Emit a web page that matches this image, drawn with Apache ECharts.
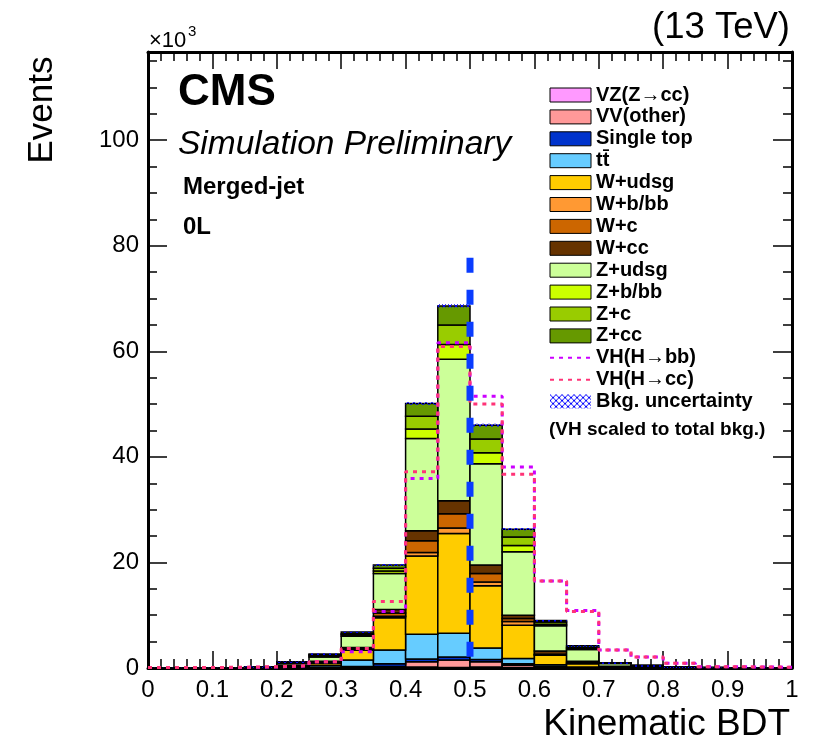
<!DOCTYPE html>
<html>
<head>
<meta charset="utf-8">
<script src="https://cdn.jsdelivr.net/npm/echarts@6/dist/echarts.min.js"></script>
<style>
  html, body { margin: 0; padding: 0; background: #fff; }
  #main { width: 823px; height: 746px; }
</style>
</head>
<body>
<div id="main"></div>
<script>
// bin edges of the Kinematic BDT histogram (20 bins of 0.05)
const binEdges = [0, 0.05, 0.1, 0.15, 0.2, 0.25, 0.3, 0.35, 0.4, 0.45, 0.5,
  0.55, 0.6, 0.65, 0.7, 0.75, 0.8, 0.85, 0.9, 0.95, 1.0]

// background yields per bin, in units of 10^3 events (stack order bottom -> top)
const vzcc      = [0, 0, 0, 0, 0, 0.02, 0.05, 0.05, 0.2, 0.1, 0.2, 0.1, 0.05, 0.02, 0, 0, 0, 0, 0, 0]
const vvOther   = [0, 0, 0, 0, 0.05, 0.08, 0.1, 0.25, 1.0, 1.4, 1.0, 0.4, 0.15, 0.05, 0.02, 0.01, 0, 0, 0, 0]
const singleTop = [0, 0, 0, 0, 0.05, 0.1, 0.15, 0.5, 0.5, 0.6, 0.4, 0.3, 0.1, 0.05, 0.02, 0.01, 0, 0, 0, 0]
const ttbar     = [0, 0, 0, 0.03, 0.1, 0.3, 1.2, 2.6, 4.7, 4.5, 2.2, 1.0, 0.3, 0.08, 0.04, 0.02, 0.01, 0, 0, 0]
const wUdsg     = [0, 0, 0.02, 0.05, 0.2, 0.4, 1.9, 6.1, 14.8, 18.9, 11.8, 6.3, 1.8, 0.6, 0.15, 0.06, 0.02, 0.01, 0, 0]
const wBbb      = [0, 0, 0, 0, 0.02, 0.1, 0.1, 0.3, 0.7, 1.0, 0.7, 0.7, 0.1, 0.1, 0.02, 0.01, 0, 0, 0, 0]
const wC        = [0, 0, 0, 0, 0.05, 0.1, 0.2, 0.6, 2.2, 2.7, 1.6, 0.6, 0.1, 0.1, 0.03, 0.01, 0.01, 0, 0, 0]
const wCc       = [0, 0, 0, 0.02, 0.1, 0.2, 0.2, 0.7, 1.9, 2.5, 1.6, 0.6, 0.6, 0.3, 0.07, 0.03, 0.01, 0.01, 0, 0]
const zUdsg     = [0.02, 0.03, 0.04, 0.1, 0.35, 0.8, 2.1, 6.8, 17.5, 26.8, 19.2, 12.0, 4.8, 2.2, 0.5, 0.28, 0.12, 0.06, 0.05, 0.02]
const zBbb      = [0, 0, 0, 0, 0.08, 0.2, 0.3, 0.5, 1.8, 2.8, 2.1, 1.2, 0.3, 0.2, 0.05, 0.03, 0.01, 0.01, 0, 0]
const zC        = [0, 0, 0, 0, 0.1, 0.2, 0.2, 0.5, 2.4, 3.7, 2.6, 1.6, 0.4, 0.2, 0.05, 0.02, 0.01, 0, 0, 0]
const zCc       = [0, 0, 0, 0.05, 0.1, 0.15, 0.3, 0.6, 2.4, 3.6, 2.6, 1.5, 0.3, 0.3, 0.05, 0.02, 0.01, 0.01, 0, 0]

// stat. uncertainty on the total background (10^3 events)
const bkgUnc    = [0.01, 0.01, 0.01, 0.02, 0.05, 0.08, 0.12, 0.2, 0.25, 0.3, 0.25, 0.2, 0.1, 0.08, 0.04, 0.03, 0.02, 0.01, 0.01, 0.01]

// signal shapes, scaled to total bkg (10^3 events)
const vhbb      = [0.1, 0.1, 0.1, 0.2, 0.4, 1.2, 3.1, 10.7, 35.9, 61.6, 51.5, 38.1, 16.5, 10.9, 3.4, 2.1, 0.9, 0.25, 0.2, 0.15]
const vhcc      = [0.1, 0.1, 0.15, 0.25, 0.45, 1.2, 3.7, 12.6, 37.2, 60.9, 50.0, 36.7, 16.5, 10.7, 3.4, 2.1, 0.9, 0.25, 0.2, 0.15]

// BDT cut
const cutValue = 0.5
const cutLineTop = 77.7

const yMax = 116.7
const fontFamily = '"Liberation Sans", Arial, Helvetica, sans-serif'

const processes = [
  { name: 'VZ(Z→cc)', values: vzcc, color: '#ff99ff' },
  { name: 'VV(other)', values: vvOther, color: '#ff9999' },
  { name: 'Single top', values: singleTop, color: '#0033cc' },
  { name: 'tt\u0304', values: ttbar, color: '#66ccff' },
  { name: 'W+udsg', values: wUdsg, color: '#ffcc00' },
  { name: 'W+b/bb', values: wBbb, color: '#ff9933' },
  { name: 'W+c', values: wC, color: '#cc6600' },
  { name: 'W+cc', values: wCc, color: '#663300' },
  { name: 'Z+udsg', values: zUdsg, color: '#ccff99' },
  { name: 'Z+b/bb', values: zBbb, color: '#ccff00' },
  { name: 'Z+c', values: zC, color: '#99cc00' },
  { name: 'Z+cc', values: zCc, color: '#669900' }
]

// hatch pattern for the uncertainty band
const hatch = document.createElement('canvas')
hatch.width = 6
hatch.height = 6
const hctx = hatch.getContext('2d')
hctx.strokeStyle = '#0000ff'
hctx.lineWidth = 1
hctx.beginPath()
hctx.moveTo(0, 0); hctx.lineTo(6, 6)
hctx.moveTo(6, 0); hctx.lineTo(0, 6)
hctx.stroke()

function renderBlock(params, api) {
  const p0 = api.coord([api.value(0), api.value(3)])
  const p1 = api.coord([api.value(1), api.value(2)])
  return {
    type: 'rect',
    shape: { x: p0[0], y: p0[1], width: p1[0] - p0[0], height: p1[1] - p0[1] },
    style: { fill: api.visual('color'), stroke: '#000', lineWidth: 1.5 }
  }
}

function renderBand(params, api) {
  const p0 = api.coord([api.value(0), api.value(3)])
  const p1 = api.coord([api.value(1), api.value(2)])
  return {
    type: 'rect',
    shape: { x: p0[0], y: p0[1], width: p1[0] - p0[0], height: Math.max(p1[1] - p0[1], 1.5) },
    style: { fill: api.visual('color') }
  }
}

// histogram as step line: one point per lower edge + last upper edge
function stepPoints(vals) {
  let pts = vals.map((v, i) => [binEdges[i], v])
  pts.push([binEdges[vals.length], vals[vals.length - 1]])
  return pts
}

let series = []
let base = binEdges.slice(0, -1).map(() => 0)
processes.forEach(p => {
  let data = []
  p.values.forEach((v, i) => {
    if (v > 0) {
      data.push([binEdges[i], binEdges[i + 1], base[i], base[i] + v])
      base[i] += v
    }
  })
  series.push({
    name: p.name,
    type: 'custom',
    renderItem: renderBlock,
    encode: { x: [0, 1], y: [2, 3] },
    itemStyle: { color: p.color },
    clip: true,
    data: data
  })
})

series.push({
  name: 'Bkg. uncertainty',
  type: 'custom',
  renderItem: renderBand,
  encode: { x: [0, 1], y: [2, 3] },
  itemStyle: { color: { image: hatch, repeat: 'repeat' } },
  clip: true,
  z: 3,
  data: base.map((t, i) => [binEdges[i], binEdges[i + 1], t - bkgUnc[i], t + bkgUnc[i]])
})

series.push({
  name: 'VH(H→bb)',
  type: 'line',
  step: 'end',
  symbol: 'none',
  data: stepPoints(vhbb),
  itemStyle: { color: '#cc00ff' },
  lineStyle: { color: '#cc00ff', width: 3, type: [4, 5] },
  z: 4
})
series.push({
  name: 'VH(H→cc)',
  type: 'line',
  step: 'end',
  symbol: 'none',
  data: stepPoints(vhcc),
  itemStyle: { color: '#ff3377' },
  lineStyle: { color: '#ff3377', width: 3, type: [4, 5] },
  z: 4
})

// vertical dashed line at the cut value
series.push({
  name: 'cut',
  type: 'line',
  symbol: 'none',
  silent: true,
  data: [[cutValue, cutLineTop], [cutValue, 0]],
  lineStyle: { color: '#0a3cff', width: 7, type: [15, 17] },
  z: 6
})

const tickStyle = { color: '#000', width: 1.5 }

function xAxisDef(position, showLabel) {
  return {
    type: 'value',
    position: position,
    min: 0,
    max: 1,
    interval: 0.1,
    axisLine: { show: true, onZero: false, lineStyle: { color: '#000', width: 3 } },
    axisTick: { show: true, inside: true, length: 17, lineStyle: tickStyle },
    minorTick: { show: true, splitNumber: 5, length: 9, lineStyle: tickStyle },
    splitLine: { show: false },
    axisLabel: { show: showLabel, color: '#000', fontSize: 24, fontFamily: fontFamily, margin: 10 }
  }
}

function yAxisDef(position, major, showLabel) {
  return {
    type: 'value',
    position: position,
    min: 0,
    max: yMax,
    interval: major ? 20 : 5,
    axisLine: { show: major, onZero: false, lineStyle: { color: '#000', width: 3 } },
    axisTick: { show: true, inside: true, length: major ? 19 : 9, lineStyle: tickStyle },
    splitLine: { show: false },
    axisLabel: {
      show: showLabel,
      color: '#000',
      fontSize: 24,
      fontFamily: fontFamily,
      margin: 9,
      formatter: v => (Math.abs(v / 20 - Math.round(v / 20)) < 1e-6 ? String(v) : '')
    }
  }
}

const legendData = processes.map(p => ({ name: p.name, icon: 'rect' }))
legendData.push({ name: 'VH(H→bb)', itemStyle: { opacity: 0 } })
legendData.push({ name: 'VH(H→cc)', itemStyle: { opacity: 0 } })
legendData.push({ name: 'Bkg. uncertainty', icon: 'rect', itemStyle: { borderWidth: 0 } })

const option = {
  animation: false,
  backgroundColor: '#fff',
  grid: { left: 148, right: 31, top: 52, bottom: 78, show: false },
  xAxis: [xAxisDef('bottom', true), xAxisDef('top', false)],
  yAxis: [yAxisDef('left', true, true), yAxisDef('left', false, false),
    yAxisDef('right', true, false), yAxisDef('right', false, false)],
  legend: {
    orient: 'vertical',
    left: 549,
    top: 85,
    padding: 0,
    itemWidth: 41,
    itemHeight: 14,
    itemGap: 1.9,
    selectedMode: false,
    itemStyle: { borderColor: '#000', borderWidth: 1 },
    textStyle: { fontFamily: fontFamily, fontWeight: 'bold', fontSize: 20, color: '#000' },
    data: legendData
  },
  graphic: [
    { type: 'text', x: 790, y: 28, style: { text: '(13 TeV)', fontFamily: fontFamily, fontSize: 36.5, fill: '#000', align: 'right', verticalAlign: 'middle' } },
    { type: 'text', x: 149, y: 41, style: { text: '×10', fontFamily: fontFamily, fontSize: 22, fill: '#000', align: 'left', verticalAlign: 'middle' } },
    { type: 'text', x: 188, y: 32, style: { text: '3', fontFamily: fontFamily, fontSize: 15, fill: '#000', align: 'left', verticalAlign: 'middle' } },
    { type: 'text', x: 178, y: 93, style: { text: 'CMS', fontFamily: fontFamily, fontWeight: 'bold', fontSize: 44, fill: '#000', align: 'left', verticalAlign: 'middle' } },
    { type: 'text', x: 178, y: 145, style: { text: 'Simulation Preliminary', fontFamily: fontFamily, fontStyle: 'italic', fontSize: 33.5, fill: '#000', align: 'left', verticalAlign: 'middle' } },
    { type: 'text', x: 183, y: 187, style: { text: 'Merged-jet', fontFamily: fontFamily, fontWeight: 'bold', fontSize: 24, fill: '#000', align: 'left', verticalAlign: 'middle' } },
    { type: 'text', x: 183, y: 227, style: { text: '0L', fontFamily: fontFamily, fontWeight: 'bold', fontSize: 24, fill: '#000', align: 'left', verticalAlign: 'middle' } },
    { type: 'text', x: 549, y: 430, style: { text: '(VH scaled to total bkg.)', fontFamily: fontFamily, fontWeight: 'bold', fontSize: 19, fill: '#000', align: 'left', verticalAlign: 'middle' } },
    { type: 'text', x: 790, y: 725, style: { text: 'Kinematic BDT', fontFamily: fontFamily, fontSize: 37, fill: '#000', align: 'right', verticalAlign: 'middle' } },
    { type: 'text', x: 42, y: 110, rotation: Math.PI / 2, style: { text: 'Events', fontFamily: fontFamily, fontSize: 35, fill: '#000', align: 'center', verticalAlign: 'middle' } }
  ],
  series: series
}

const chart = echarts.init(document.getElementById('main'), null, { renderer: 'canvas' })
chart.setOption(option)
</script>
</body>
</html>
